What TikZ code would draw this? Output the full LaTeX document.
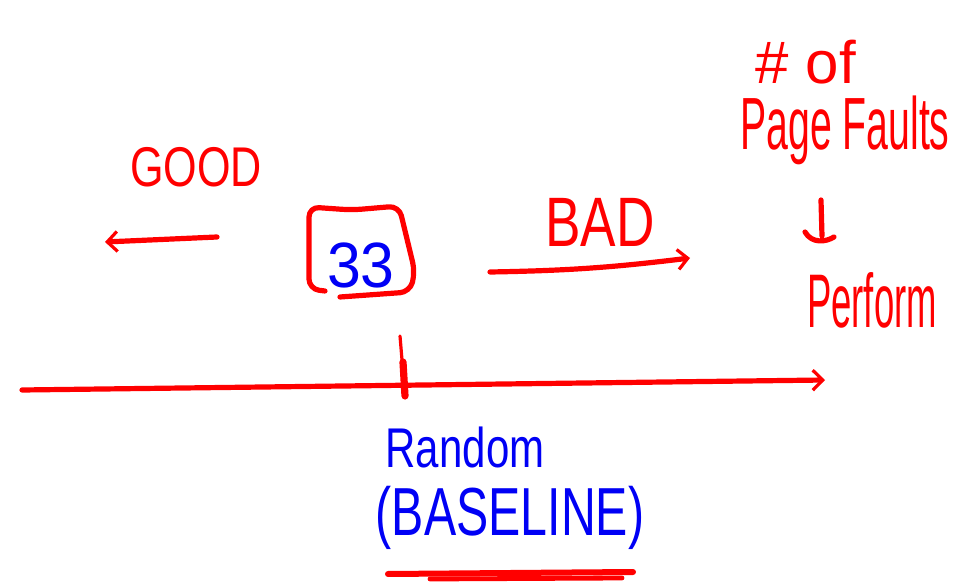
\documentclass[tikz,border=0pt]{standalone}
\usepackage{fontspec}
\setmainfont{Liberation Sans}
\usetikzlibrary{arrows.meta}
\definecolor{pen}{RGB}{255,0,0}
\definecolor{ink}{RGB}{0,0,245}
\newcommand{\hand}[3]{\scalebox{#1}[1]{\fontsize{#2}{#2}\selectfont #3}}
\begin{document}
\begin{tikzpicture}[x=0.5pt,y=-0.5pt,
  stroke/.style={draw=pen, line width=2.6pt, line cap=round, line join=round},
  tipped/.style={-{Straight Barb[length=5pt,width=10pt,line width=1.6pt]}},
  redlbl/.style={inner sep=0pt, text=pen},
  bluelbl/.style={inner sep=0pt, text=ink}]
\useasboundingbox (0,0) rectangle (955,583);
% axis
\coordinate (axL) at (22,390);
\coordinate (axR) at (825,380);
\draw[stroke, tipped] (axL) -- (axR);
% tick
\draw[stroke, line width=1.6pt] (400,336) -- (403,372);
\draw[stroke, line width=3.6pt] (403,362) -- (405,396);
% box with 33
\node[bluelbl] (num) at (361,265) {\hand{0.95}{32}{33}};
\draw[stroke, rounded corners=5pt] (325,291) -- (309,289) -- (309,207) -- (352,210) -- (399,206) -- (415,272) -- (410,292) -- (340,297);
% GOOD
\node[redlbl] (good) at (196,167) {\hand{0.77}{28}{GOOD}};
\coordinate (g1) at (217,237);
\coordinate (g2) at (105,242);
\draw[stroke, tipped] (g1) -- (g2);
% BAD
\node[redlbl] (bad) at (600,222) {\hand{0.76}{35}{BAD}};
\coordinate (b1) at (490,272);
\coordinate (b2) at (690,258);
\draw[stroke, tipped] (b1) to[bend right=3] (b2);
% page faults
\node[redlbl] (nof) at (806,62) {\hand{1}{30}{\# of}};
\node[redlbl] (pf) at (845,130) {\hand{0.53}{37}{Page Faults}};
\draw[stroke] (821,200) -- (822,236);
\draw[stroke] (805,232) .. controls (812,244) and (826,242) .. (834,237);
\node[redlbl] (perf) at (872,300) {\hand{0.48}{38}{Perform}};
% baseline
\node[bluelbl] (rand) at (465,447) {\hand{0.75}{28}{Random}};
\node[bluelbl] (base) at (510,518) {\hand{0.71}{34}{(BASELINE)}};
\draw[stroke, line width=3pt] (388,574) -- (633,572);
\draw[stroke, line width=2.4pt] (430,579) -- (622,578);
\end{tikzpicture}
\end{document}
